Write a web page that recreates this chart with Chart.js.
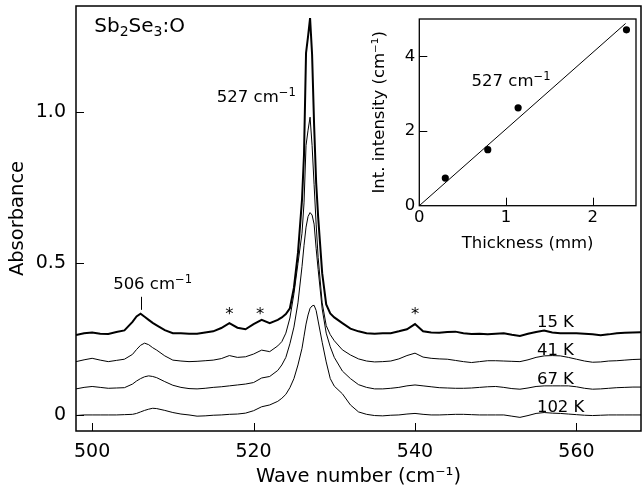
<!DOCTYPE html>
<html><head><meta charset="utf-8">
<script src="https://cdn.jsdelivr.net/npm/chart.js@4.4.1/dist/chart.umd.min.js"></script>
<style>
html,body{margin:0;padding:0;background:#fff;}
#wrap{position:relative;width:642px;height:489px;background:#fff;}
#main{position:absolute;left:0;top:0;width:642px;height:489px;}
#inset{position:absolute;left:360px;top:0;width:282px;height:280px;}
</style></head><body>
<div id="wrap"><canvas id="main" width="642" height="489"></canvas><canvas id="inset" width="282" height="280"></canvas></div>
<script>
// ---------- data ----------
const waveNumbers = [498,499,500,501,502,503,504,505,505.5,506,506.5,507,507.5,508,509,510,511,512,513,514,515,516,517,518,519,520,521,522,523,523.5,524,524.5,525,525.5,526,526.25,526.5,526.75,527,527.25,527.5,527.75,528,528.5,529,529.5,530,531,532,533,534,535,536,537,538,539,540,541,542,543,544,545,546,547,548,549,550,551,552,553,554,555,556,557,558,559,560,561,562,563,564,565,566,567,568];
const abs15K = [0.264,0.270,0.272,0.268,0.267,0.274,0.279,0.307,0.325,0.334,0.324,0.314,0.304,0.296,0.280,0.270,0.270,0.268,0.268,0.272,0.276,0.287,0.303,0.288,0.283,0.300,0.314,0.303,0.314,0.322,0.333,0.352,0.420,0.535,0.710,0.860,1.195,1.250,1.310,1.190,0.957,0.768,0.654,0.468,0.365,0.335,0.322,0.303,0.285,0.276,0.270,0.268,0.270,0.270,0.276,0.283,0.300,0.276,0.272,0.271,0.274,0.275,0.270,0.267,0.268,0.266,0.268,0.270,0.265,0.261,0.268,0.274,0.279,0.272,0.270,0.270,0.270,0.268,0.266,0.263,0.266,0.270,0.271,0.272,0.273];
const abs41K = [0.176,0.182,0.187,0.181,0.176,0.180,0.184,0.200,0.216,0.230,0.237,0.232,0.222,0.214,0.195,0.181,0.178,0.176,0.177,0.179,0.181,0.186,0.196,0.190,0.192,0.201,0.214,0.209,0.228,0.242,0.270,0.320,0.400,0.500,0.600,0.700,0.890,0.940,0.983,0.890,0.760,0.630,0.520,0.370,0.295,0.265,0.245,0.215,0.198,0.185,0.178,0.175,0.176,0.178,0.185,0.196,0.204,0.191,0.187,0.185,0.184,0.180,0.176,0.173,0.176,0.179,0.179,0.178,0.177,0.176,0.182,0.190,0.195,0.196,0.195,0.190,0.184,0.178,0.174,0.175,0.178,0.179,0.181,0.183,0.184];
const abs67K = [0.086,0.091,0.094,0.091,0.088,0.089,0.090,0.102,0.112,0.120,0.126,0.129,0.127,0.123,0.110,0.098,0.091,0.087,0.086,0.088,0.091,0.093,0.096,0.099,0.102,0.107,0.122,0.127,0.147,0.165,0.190,0.235,0.290,0.370,0.490,0.560,0.620,0.655,0.668,0.660,0.630,0.550,0.480,0.350,0.270,0.225,0.190,0.145,0.120,0.100,0.091,0.086,0.086,0.088,0.091,0.096,0.099,0.096,0.093,0.090,0.089,0.088,0.088,0.089,0.091,0.093,0.094,0.091,0.087,0.085,0.089,0.094,0.096,0.096,0.096,0.096,0.093,0.088,0.085,0.086,0.088,0.090,0.091,0.092,0.092];
const abs102K = [-0.002,0.000,0.000,0.000,0.000,0.000,0.001,0.002,0.005,0.010,0.015,0.019,0.022,0.021,0.015,0.008,0.003,0.000,-0.004,-0.003,-0.001,0.000,0.002,0.003,0.006,0.014,0.027,0.033,0.045,0.055,0.068,0.090,0.120,0.165,0.220,0.260,0.300,0.330,0.352,0.360,0.362,0.345,0.310,0.240,0.175,0.120,0.095,0.070,0.033,0.010,0.002,-0.002,-0.003,-0.001,0.000,0.003,0.005,0.002,0.000,0.000,0.001,0.002,0.002,0.001,0.000,0.000,0.000,0.000,-0.004,-0.008,-0.002,0.005,0.008,0.006,0.005,0.003,0.001,-0.001,-0.002,-0.001,0.000,0.000,0.000,0.000,0.000];
const seriesNames = ['15 K','41 K','67 K','102 K'];
const xTickValues = [500,520,540,560];
const yTickValues = [0,0.5,1.0];

const thickness = [0.30,0.79,1.14,2.39];
const intIntensity = [0.74,1.50,2.62,4.71];
const fitThickness = [0,2.38];
const fitIntensity = [0,4.88];
const insetXTicks = [0,1,2];
const insetYTicks = [0,2,4];

// ---------- helpers ----------
const FAM = '"DejaVu Sans", sans-serif';
Chart.defaults.font.family = FAM;
Chart.defaults.color = '#000';

function richText(ctx, parts, x, yCenter, size, align) {
  // parts: [text, mode] mode 0 normal, 1 superscript, -1 subscript
  const base = yCenter + 0.365 * size;
  const widths = parts.map(p => { ctx.font = (p[1] ? size * 0.7 : size) + 'px ' + FAM; return ctx.measureText(p[0]).width; });
  const total = widths.reduce((a, b) => a + b, 0);
  let cx = align === 'center' ? x - total / 2 : (align === 'right' ? x - total : x);
  ctx.textAlign = 'left';
  ctx.textBaseline = 'alphabetic';
  ctx.fillStyle = '#000';
  parts.forEach((p, i) => {
    ctx.font = (p[1] ? size * 0.7 : size) + 'px ' + FAM;
    const dy = p[1] === 1 ? -size * 0.38 : (p[1] === -1 ? size * 0.2 : 0);
    ctx.fillText(p[0], cx, base + dy);
    cx += widths[i];
  });
}

function frameAndTicks(frameWidth, tickLen, xTickList, yTickList) {
  return {
    id: 'frameTicks',
    afterDatasetsDraw(chart) {
      const ctx = chart.ctx, a = chart.chartArea;
      const xs = chart.scales.x, ys = chart.scales.y;
      ctx.save();
      ctx.strokeStyle = '#000';
      ctx.lineWidth = 1;
      ctx.beginPath();
      xTickList.forEach(v => { const px = Math.round(xs.getPixelForValue(v)) + 0.5; ctx.moveTo(px, a.bottom); ctx.lineTo(px, a.bottom - tickLen); });
      yTickList.forEach(v => { const py = Math.round(ys.getPixelForValue(v)) + 0.5; ctx.moveTo(a.left, py); ctx.lineTo(a.left + tickLen, py); });
      ctx.stroke();
      ctx.lineWidth = frameWidth;
      ctx.strokeRect(a.left, a.top, a.right - a.left, a.bottom - a.top);
      ctx.restore();
    }
  };
}

function fixX(h) { return s => { s.height = h; s.paddingLeft = 0; s.paddingRight = 0; }; }
function fixY(w) { return s => { s.width = w; s.paddingTop = 0; s.paddingBottom = 0; }; }

// ---------- main chart ----------
const mainAnnotations = {
  id: 'mainAnn',
  afterDatasetsDraw(chart) {
    const ctx = chart.ctx, xs = chart.scales.x, ys = chart.scales.y;
    const X = v => xs.getPixelForValue(v), Y = v => ys.getPixelForValue(v);
    ctx.save();
    richText(ctx, [['Sb',0],['2',-1],['Se',0],['3',-1],[':O',0]], X(500.27), Y(1.288), 20, 'left');
    richText(ctx, [['527 cm',0],['\u22121',1]], X(515.45), Y(1.052), 16.5, 'left');
    richText(ctx, [['506 cm',0],['\u22121',1]], X(502.6), Y(0.436), 16.5, 'left');
    ctx.strokeStyle = '#000'; ctx.lineWidth = 1;
    ctx.beginPath();
    const mx = Math.round(X(506.03)) + 0.5;
    ctx.moveTo(mx, Y(0.39)); ctx.lineTo(mx, Y(0.347)); ctx.stroke();
    ctx.font = '16.5px ' + FAM; ctx.textAlign = 'center'; ctx.textBaseline = 'alphabetic'; ctx.fillStyle = '#000';
    [517.0, 520.8, 540.0].forEach(v => ctx.fillText('*', X(v), Y(0.348) + 0.6 * 16.5));
    const labelY = [0.311, 0.217, 0.121, 0.030];
    seriesNames.forEach((n, i) => richText(ctx, [[n,0]], X(555.1), Y(labelY[i]), 16.5, 'left'));
    ctx.restore();
  }
};

const seriesValues = [abs15K, abs41K, abs67K, abs102K];
const widthsBySeries = [2, 1, 1, 1];
new Chart(document.getElementById('main'), {
  type: 'line',
  data: {
    datasets: seriesValues.map((vals, i) => ({
      label: seriesNames[i],
      data: waveNumbers.map((w, j) => ({ x: w, y: vals[j] })),
      borderColor: '#000',
      borderWidth: widthsBySeries[i],
      pointRadius: 0,
      tension: 0,
      fill: false
    }))
  },
  options: {
    responsive: false,
    animation: false,
    devicePixelRatio: 1,
    layout: { padding: { top: 6, right: 1, left: 0, bottom: 0 } },
    plugins: { legend: { display: false }, tooltip: { enabled: false } },
    scales: {
      x: {
        type: 'linear', min: 498, max: 568,
        afterBuildTicks: s => { s.ticks = xTickValues.map(v => ({ value: v })); },
        afterFit: fixX(58),
        grid: { display: false, drawTicks: false },
        border: { display: false },
        ticks: { font: { size: 19 }, padding: 10, maxRotation: 0, autoSkip: false, callback: v => String(v) },
        title: { display: true, text: 'Wave number (cm\u207B\u00B9)', font: { size: 19.5 }, padding: { top: 0, bottom: 0 } }
      },
      y: {
        type: 'linear', min: -0.053, max: 1.35,
        afterBuildTicks: s => { s.ticks = yTickValues.map(v => ({ value: v })); },
        afterFit: fixY(76),
        grid: { display: false, drawTicks: false },
        border: { display: false },
        ticks: { font: { size: 19 }, padding: 10, autoSkip: false, callback: v => (v === 0 ? '0' : v.toFixed(1)) },
        title: { display: true, text: 'Absorbance', font: { size: 19.5 }, padding: { top: 6, bottom: 6 } }
      }
    }
  },
  plugins: [frameAndTicks(1.5, 8, xTickValues, yTickValues), mainAnnotations]
});

// ---------- inset chart ----------
const insetAnnotations = {
  id: 'insetAnn',
  afterDatasetsDraw(chart) {
    const ctx = chart.ctx, xs = chart.scales.x, ys = chart.scales.y;
    ctx.save();
    richText(ctx, [['527 cm',0],['\u22121',1]], xs.getPixelForValue(0.603), ys.getPixelForValue(3.36), 16.5, 'left');
    ctx.restore();
  }
};

new Chart(document.getElementById('inset'), {
  type: 'scatter',
  data: {
    datasets: [
      {
        label: 'fit',
        data: fitThickness.map((t, i) => ({ x: t, y: fitIntensity[i] })),
        showLine: true, borderColor: '#000', borderWidth: 1, pointRadius: 0, tension: 0
      },
      {
        label: 'Int. intensity',
        data: thickness.map((t, i) => ({ x: t, y: intIntensity[i] })),
        showLine: false, pointRadius: 3.6, backgroundColor: '#000', borderColor: '#000', borderWidth: 0
      }
    ]
  },
  options: {
    responsive: false,
    animation: false,
    devicePixelRatio: 1,
    layout: { padding: { top: 19, right: 6, left: 0, bottom: 0 } },
    plugins: { legend: { display: false }, tooltip: { enabled: false } },
    scales: {
      x: {
        type: 'linear', min: 0, max: 2.5,
        afterBuildTicks: s => { s.ticks = insetXTicks.map(v => ({ value: v })); },
        afterFit: fixX(74.3),
        grid: { display: false, drawTicks: false },
        border: { display: false },
        ticks: { font: { size: 16.5 }, padding: 2, maxRotation: 0, autoSkip: false, callback: v => String(v) },
        title: { display: true, text: 'Thickness (mm)', font: { size: 16.5 }, padding: { top: 26, bottom: 26 } }
      },
      y: {
        type: 'linear', min: 0, max: 5,
        afterBuildTicks: s => { s.ticks = insetYTicks.map(v => ({ value: v })); },
        afterFit: fixY(59.3),
        grid: { display: false, drawTicks: false },
        border: { display: false },
        ticks: { font: { size: 16.5 }, padding: 4, autoSkip: false, callback: v => String(v) },
        title: { display: true, text: 'Int. intensity (cm\u207B\u00B9)', font: { size: 16.5 }, padding: { top: 10, bottom: 10 } }
      }
    }
  },
  plugins: [frameAndTicks(1.3, 8, insetXTicks.slice(1), insetYTicks.slice(1)), insetAnnotations]
});
</script>
</body></html>
